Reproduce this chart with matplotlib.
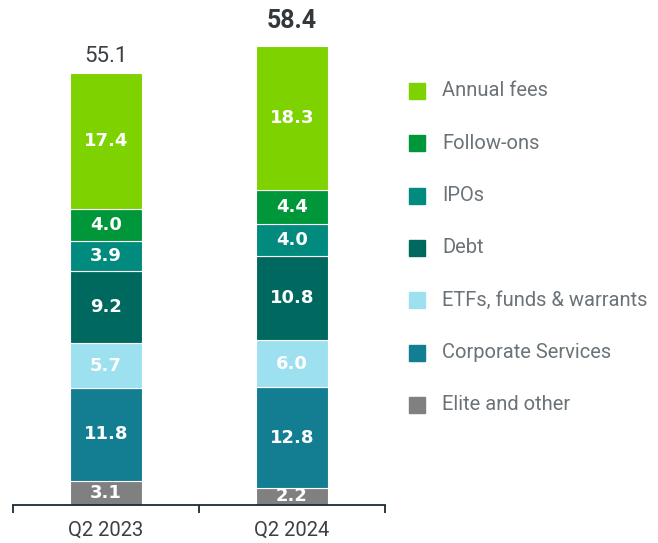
import numpy as np
import matplotlib.pyplot as plt
from matplotlib.patches import Rectangle

PERIODS = ['Q2 2023', 'Q2 2024']
SEGMENTS = ['Elite and other', 'Corporate Services', 'ETFs, funds & warrants',
            'Debt', 'IPOs', 'Follow-ons', 'Annual fees']
VALUES = {
    'Elite and other': [3.1, 2.2],
    'Corporate Services': [11.8, 12.8],
    'ETFs, funds & warrants': [5.7, 6.0],
    'Debt': [9.2, 10.8],
    'IPOs': [3.9, 4.0],
    'Follow-ons': [4.0, 4.4],
    'Annual fees': [17.4, 18.3],
}
TOTALS = [55.1, 58.4]

COLORS = {
    'Elite and other': '#808080',
    'Corporate Services': '#137d92',
    'ETFs, funds & warrants': '#9de1f1',
    'Debt': '#00695f',
    'IPOs': '#008b7e',
    'Follow-ons': '#00973a',
    'Annual fees': '#7dd200',
}

W, H = 658, 543
fig = plt.figure(figsize=(W / 100, H / 100), dpi=100)
ax = fig.add_axes([13 / W, 38 / H, 372 / W, 505 / H])

x = np.arange(len(PERIODS))
bottom = np.zeros(len(PERIODS))
for seg in SEGMENTS:
    vals = np.array(VALUES[seg])
    ax.bar(x, vals, width=0.39, bottom=bottom, color=COLORS[seg],
           edgecolor='white', linewidth=0.8, zorder=2)
    for xi, b, v in zip(x, bottom, vals):
        ax.text(xi, b + v / 2, f'{v:.1f}', ha='center', va='center',
                color='white', fontsize=13, fontweight='bold',
                family='DejaVu Sans', zorder=3)
    bottom += vals

# totals above bars
ax.annotate(f'{TOTALS[0]:.1f}', (x[0], TOTALS[0]), xytext=(0, 12),
            textcoords='offset points', ha='center', va='center',
            fontsize=16, color='#3a3f44', family='Roboto')
ax.annotate(f'{TOTALS[1]:.1f}', (x[1], TOTALS[1]), xytext=(0, 19),
            textcoords='offset points', ha='center', va='center',
            fontsize=18, fontweight='bold', color='#33383d', family='Roboto')

ax.set_xlim(-0.5, 1.5)
ax.set_ylim(0, 505 / 7.84)
for s in ['top', 'right', 'left']:
    ax.spines[s].set_visible(False)
ax.spines['bottom'].set_color('#1c2b33')
ax.spines['bottom'].set_linewidth(1.3)
ax.set_yticks([])
ax.set_xticks([-0.5, 0.5, 1.5])
ax.set_xticklabels([])
ax.tick_params(axis='x', which='major', length=6, width=1.3,
               color='#1c2b33', direction='out')
ax.set_xticks(x, minor=True)
ax.set_xticklabels(PERIODS, minor=True, fontsize=14.5, color='#3a3f44',
                   family='Roboto')
ax.tick_params(axis='x', which='minor', length=0, pad=11)

# legend, top item first
legend_items = SEGMENTS[::-1]
y0, step = 91, 52.3
for i, seg in enumerate(legend_items):
    yc = y0 + i * step
    fig.add_artist(Rectangle((409 / W, 1 - (yc + 8) / H), 16 / W, 16 / H,
                             transform=fig.transFigure, color=COLORS[seg]))
    fig.text(442 / W, 1 - yc / H, seg, ha='left', va='center',
             fontsize=14.5, color='#6b7378', family='Roboto')

fig.savefig('out.png', dpi=100)
